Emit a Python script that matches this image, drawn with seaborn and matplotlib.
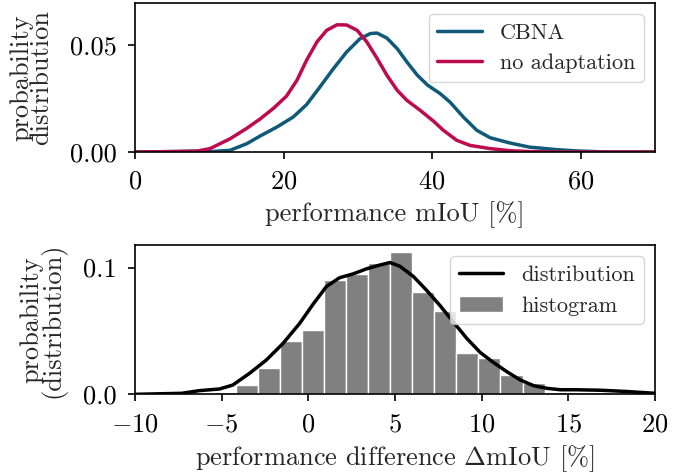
import numpy as np
import pandas as pd
import matplotlib
matplotlib.use("Agg")
import matplotlib.pyplot as plt
from matplotlib.ticker import FormatStrFormatter
import seaborn as sns

# --- Style ---
sns.set_style("ticks")
plt.rcParams["font.family"] = ["cmr10", "DejaVu Serif"]
plt.rcParams["mathtext.fontset"] = "cm"
plt.rcParams["axes.formatter.use_mathtext"] = True
plt.rcParams["font.size"] = 19
plt.rcParams["axes.edgecolor"] = "black"
plt.rcParams["axes.linewidth"] = 1.2
plt.rcParams["xtick.color"] = "black"
plt.rcParams["ytick.color"] = "black"

blue = "#0e5a78"
red = "#be0a4e"

# --- Top panel: mIoU densities ---
cbna_x = [0, 5, 8, 10.6, 12.8, 15.05, 16.85, 19.1, 21.3, 23.1, 24.9, 26.7, 28.5, 30.3, 31.7, 32.6,
          33.9, 35.3, 36.6, 38.0, 39.4, 41.1, 42.4, 44.2, 46.0, 47.8, 50.5, 53.1, 56.8, 59.5, 63.6, 70]
cbna_y = [0, 0.0002, 0.0004, 0.0003, 0.0008, 0.0039, 0.0075, 0.0117, 0.0164, 0.0222, 0.0305, 0.039,
          0.0469, 0.0531, 0.0555, 0.0557, 0.0534, 0.0484, 0.0422, 0.036, 0.0313, 0.0273, 0.0234,
          0.0164, 0.0102, 0.0067, 0.0042, 0.0023, 0.0011, 0.0005, 0, 0]

noad_x = [0, 5, 8.3, 10.1, 12.8, 15.0, 16.85, 18.65, 20.4, 21.8, 23.1, 24.5, 25.8, 27.2, 28.5, 29.9,
          31.2, 32.6, 33.9, 35.3, 36.6, 38.4, 40.2, 41.5, 43.3, 45.1, 47.8, 50.5, 53.1, 57, 70]
noad_y = [0, 0.0002, 0.0004, 0.0016, 0.0062, 0.011, 0.0155, 0.0205, 0.0262, 0.0336, 0.043, 0.0516,
          0.057, 0.0596, 0.0595, 0.057, 0.0516, 0.0438, 0.036, 0.0289, 0.0242, 0.0195, 0.0144,
          0.0102, 0.0055, 0.0031, 0.0016, 0.0006, 0.0002, 0, 0]

# --- Bottom panel: difference histogram + density ---
bin_edges = [-5.45 + 1.272 * k for k in range(19)]
hist_heights = [0.002, 0.0073, 0.021, 0.042, 0.051, 0.090, 0.095, 0.104, 0.112, 0.081,
                0.066, 0.0328, 0.029, 0.0152, 0.0092, 0.0018, 0.002, 0.0022]

diff_x = [-10, -7.3, -6.29, -5.13, -4.36, -3.4, -2.43, -1.47, -0.5, 0.27, 1.04, 1.8, 2.58, 3.35,
          4.12, 4.71, 5.29, 6.06, 6.83, 7.6, 8.37, 9.15, 9.92, 10.69, 11.46, 12.23, 13.0, 13.78,
          14.55, 15.5, 16.9, 18.4, 20]
diff_y = [0, 0.0008, 0.0029, 0.0042, 0.0073, 0.0165, 0.027, 0.040, 0.056, 0.071, 0.085, 0.092,
          0.095, 0.099, 0.102, 0.104, 0.101, 0.093, 0.082, 0.070, 0.057, 0.044, 0.033, 0.025,
          0.0178, 0.0113, 0.0068, 0.0047, 0.0036, 0.0036, 0.0032, 0.0022, 0.0008]

bin_centers = [(a + b) / 2 for a, b in zip(bin_edges[:-1], bin_edges[1:])]

fig, (ax1, ax2) = plt.subplots(2, 1, figsize=(6.94, 4.76), dpi=100)
fig.subplots_adjust(left=0.1945, right=0.9438, top=0.9937, bottom=0.1716, hspace=0.626)

# --- Top ---
sns.lineplot(x=cbna_x, y=cbna_y, ax=ax1, color=blue, linewidth=2.5, label="CBNA")
sns.lineplot(x=noad_x, y=noad_y, ax=ax1, color=red, linewidth=2.5, label="no adaptation")
ax1.set_xlim(0, 70)
ax1.set_ylim(0, 0.0698)
ax1.set_xticks([0, 20, 40, 60])
ax1.set_yticks([0, 0.05])
ax1.yaxis.set_major_formatter(FormatStrFormatter("%.2f"))
ax1.set_xlabel("performance mIoU [%]", labelpad=5)
ax1.set_ylabel("probability\ndistribution", linespacing=0.82, labelpad=12)
ax1.legend(loc="upper right", fontsize=16, fancybox=True, framealpha=0.8, edgecolor="0.8")

# --- Bottom ---
sns.histplot(x=bin_centers, weights=hist_heights, bins=bin_edges, stat="count", ax=ax2,
             color="gray", edgecolor="white", linewidth=1.0, alpha=1.0, label="histogram")
sns.lineplot(x=diff_x, y=diff_y, ax=ax2, color="black", linewidth=2.5, label="distribution")
ax2.set_xlim(-10, 20)
ax2.set_ylim(0, 0.1176)
ax2.set_xticks([-10, -5, 0, 5, 10, 15, 20])
ax2.set_yticks([0, 0.1])
ax2.yaxis.set_major_formatter(FormatStrFormatter("%.1f"))
ax2.set_xlabel(r"performance difference $\Delta$mIoU [%]", labelpad=5)
ax2.set_ylabel("probability\n(distribution)", linespacing=0.82, labelpad=12)
handles, labels = ax2.get_legend_handles_labels()
order = [labels.index("distribution"), labels.index("histogram")]
ax2.legend([handles[i] for i in order], [labels[i] for i in order], loc="upper right",
           fontsize=16, fancybox=True, framealpha=0.8, edgecolor="0.8")

for ax in (ax1, ax2):
    ax.tick_params(direction="out", length=5, width=1.2, pad=8)
    for s in ax.spines.values():
        s.set_visible(True)

fig.savefig("out.png", dpi=100)
